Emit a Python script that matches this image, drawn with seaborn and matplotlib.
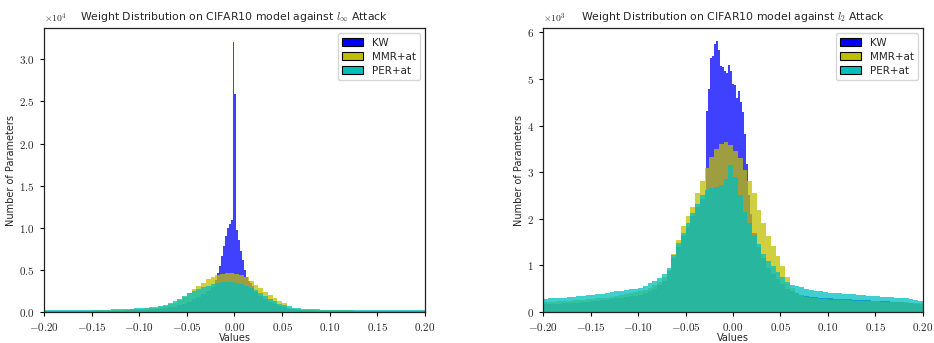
import numpy as np
import pandas as pd
import matplotlib
matplotlib.use("Agg")
import matplotlib.pyplot as plt
import seaborn as sns
from matplotlib.patches import Patch
from matplotlib.ticker import FuncFormatter

# ---- data: bar heights ----
# common grid: 80 bins of width 0.005 over [-0.2, 0.2]
# left panel (l_inf attack), counts in units of 1e4
linf_per = [0.020, 0.020, 0.020, 0.020, 0.021, 0.021, 0.021, 0.022, 0.022, 0.023,
            0.024, 0.025, 0.026, 0.028, 0.030, 0.032, 0.034, 0.037, 0.040, 0.044,
            0.048, 0.053, 0.058, 0.065, 0.075, 0.088, 0.105, 0.125, 0.150, 0.185,
            0.22, 0.25, 0.275, 0.295, 0.31, 0.33, 0.345, 0.355, 0.36, 0.355,
            0.35, 0.335, 0.31, 0.29, 0.26, 0.225, 0.19, 0.155, 0.125, 0.10,
            0.085, 0.068, 0.052, 0.042, 0.037, 0.034, 0.032, 0.030, 0.029, 0.028,
            0.027, 0.026, 0.026, 0.025, 0.025, 0.024, 0.024, 0.023, 0.023, 0.022,
            0.022, 0.021, 0.021, 0.020, 0.020, 0.020, 0.019, 0.019, 0.018, 0.018]
linf_mmr = [0.014, 0.014, 0.014, 0.014, 0.015, 0.015, 0.015, 0.016, 0.016, 0.017,
            0.018, 0.019, 0.020, 0.021, 0.022, 0.024, 0.026, 0.028, 0.031, 0.034,
            0.038, 0.042, 0.047, 0.053, 0.062, 0.074, 0.090, 0.110, 0.140, 0.175,
            0.225, 0.27, 0.31, 0.35, 0.39, 0.42, 0.44, 0.45, 0.46, 0.46,
            0.455, 0.44, 0.41, 0.37, 0.32, 0.28, 0.24, 0.20, 0.165, 0.13,
            0.105, 0.05, 0.035, 0.030, 0.027, 0.025, 0.024, 0.023, 0.022, 0.021,
            0.020, 0.019, 0.019, 0.018, 0.018, 0.017, 0.017, 0.016, 0.016, 0.016,
            0.015, 0.015, 0.015, 0.014, 0.014, 0.014, 0.014, 0.013, 0.013, 0.013]
linf_kw_tail = [0.009, 0.009, 0.009, 0.009, 0.010, 0.010, 0.010, 0.011, 0.011, 0.012,
                0.012, 0.013, 0.013, 0.014, 0.015, 0.016, 0.017, 0.019, 0.021, 0.023,
                0.025, 0.028, 0.031, 0.035, 0.040, 0.047, 0.055, 0.065, 0.080, 0.100,
                0.12, 0.15, 0.18, 0.21, 0.25, 0.30, 0, 0, 0, 0,
                0, 0, 0, 0, 0.24, 0.19, 0.15, 0.12, 0.095, 0.075,
                0.06, 0.04, 0.03, 0.025, 0.022, 0.020, 0.018, 0.017, 0.016, 0.015,
                0.014, 0.014, 0.013, 0.013, 0.012, 0.012, 0.012, 0.011, 0.011, 0.011,
                0.011, 0.010, 0.010, 0.010, 0.010, 0.010, 0.009, 0.009, 0.009, 0.009]
# KW core on narrow bins (20 bins over [-0.02, 0.02])
linf_kw_core = [0.38, 0.46, 0.55, 0.66, 0.78, 0.90, 1.00, 1.05, 1.09, 3.21,
                2.59, 0.97, 0.85, 0.73, 0.62, 0.50, 0.42, 0.37, 0.34, 0.31]
linf_kw_core_range = (-0.02, 0.02)

# right panel (l_2 attack), counts in units of 1e3
l2_per = [0.28, 0.29, 0.30, 0.31, 0.31, 0.32, 0.33, 0.34, 0.35, 0.36,
          0.37, 0.38, 0.39, 0.40, 0.42, 0.44, 0.46, 0.47, 0.49, 0.50,
          0.52, 0.56, 0.62, 0.67, 0.73, 0.82, 0.95, 1.22, 1.48, 1.70,
          1.90, 2.12, 2.32, 2.50, 2.62, 2.66, 2.68, 2.72, 2.85, 3.15,
          2.90, 2.50, 2.15, 1.90, 1.65, 1.45, 1.25, 1.10, 0.98, 0.86,
          0.74, 0.64, 0.57, 0.55, 0.53, 0.50, 0.48, 0.46, 0.44, 0.42,
          0.41, 0.40, 0.40, 0.39, 0.38, 0.38, 0.37, 0.36, 0.35, 0.35,
          0.34, 0.33, 0.32, 0.32, 0.31, 0.30, 0.29, 0.28, 0.26, 0.24]
l2_mmr = [0.21, 0.22, 0.22, 0.23, 0.23, 0.24, 0.25, 0.25, 0.26, 0.27,
          0.28, 0.29, 0.30, 0.31, 0.33, 0.35, 0.37, 0.39, 0.41, 0.43,
          0.45, 0.48, 0.52, 0.57, 0.64, 0.74, 0.90, 1.25, 1.55, 1.85,
          2.05, 2.26, 2.55, 2.80, 3.08, 3.33, 3.50, 3.60, 3.65, 3.58,
          3.45, 3.30, 3.05, 2.80, 2.55, 2.18, 1.90, 1.62, 1.42, 1.20,
          0.98, 0.75, 0.52, 0.40, 0.36, 0.33, 0.31, 0.29, 0.28, 0.27,
          0.26, 0.26, 0.25, 0.25, 0.25, 0.24, 0.24, 0.24, 0.23, 0.23,
          0.23, 0.22, 0.22, 0.22, 0.21, 0.21, 0.21, 0.20, 0.20, 0.19]
l2_kw_tail = [0.17, 0.17, 0.18, 0.18, 0.19, 0.19, 0.20, 0.20, 0.21, 0.22,
              0.23, 0.24, 0.25, 0.26, 0.27, 0.29, 0.30, 0.32, 0.34, 0.35,
              0.37, 0.40, 0.44, 0.50, 0.57, 0.66, 0.88, 1.15, 1.40, 1.62,
              1.82, 2.05, 2.25, 2.42, 0, 0, 0, 0, 0, 0,
              0, 0, 0, 0, 1.70, 1.40, 1.15, 0.95, 0.82, 0.70,
              0.60, 0.50, 0.44, 0.40, 0.37, 0.35, 0.33, 0.32, 0.31, 0.30,
              0.29, 0.28, 0.28, 0.27, 0.27, 0.26, 0.26, 0.25, 0.25, 0.24,
              0.24, 0.23, 0.23, 0.22, 0.21, 0.21, 0.20, 0.19, 0.18, 0.17]
# KW core on narrow bins (24 bins over [-0.03, 0.02])
l2_kw_core = [2.55, 4.31, 4.78, 5.45, 5.49, 5.75, 5.82, 5.61, 5.28, 5.25,
              5.16, 5.12, 5.30, 5.16, 4.89, 4.87, 4.59, 4.74, 4.51, 4.30,
              3.82, 3.18, 2.50, 2.10]
l2_kw_core_range = (-0.03, 0.02)

labels = ["KW", "MMR+at", "PER+at"]
colors = ["b", "y", "c"]

edges = list(np.linspace(-0.2, 0.2, 81))
centers = [(a + b) / 2 for a, b in zip(edges[:-1], edges[1:])]

sns.set_style("ticks")
plt.rcParams["font.family"] = ["DejaVu Sans"]
plt.rcParams["mathtext.fontset"] = "cm"

fig = plt.figure(figsize=(9.34, 3.43), dpi=100)
ax1 = fig.add_axes([0.0471, 0.0904, 0.4079, 0.8276])
ax2 = fig.add_axes([0.5814, 0.0904, 0.4068, 0.8276])


def hist(ax, x, counts, bins, scale, color):
    df = pd.DataFrame({"x": x, "w": np.asarray(counts, dtype=float) * scale})
    sns.histplot(data=df, x="x", weights="w", bins=bins,
                 color=color, alpha=0.75, linewidth=0, ax=ax)


def draw(ax, kw_core, kw_range, kw_tail, mmr, per, scale, exp, ymax, yticks, fmt, title):
    core_edges = list(np.linspace(kw_range[0], kw_range[1], len(kw_core) + 1))
    core_centers = [(a + b) / 2 for a, b in zip(core_edges[:-1], core_edges[1:])]
    # KW: tails on the common grid, core on narrow bins
    hist(ax, centers, kw_tail, edges, scale, "b")
    hist(ax, core_centers, kw_core, core_edges, scale, "b")
    hist(ax, centers, mmr, edges, scale, "y")
    hist(ax, centers, per, edges, scale, "c")

    ax.set_xlim(-0.2, 0.2)
    ax.set_ylim(0, ymax * scale)
    ax.set_xticks(np.linspace(-0.2, 0.2, 9))
    ax.set_yticks(np.array(yticks) * scale)
    ax.xaxis.set_major_formatter(FuncFormatter(lambda v, p: f"${v:.2f}$"))
    ax.yaxis.set_major_formatter(FuncFormatter(lambda v, p: "$" + format(v / scale, fmt) + "$"))
    ax.tick_params(labelsize=8, length=3, width=0.8, color="k")
    ax.set_xlabel("Values", fontsize=7, labelpad=0)
    ax.set_ylabel("Number of Parameters", fontsize=7, labelpad=2)
    ax.set_title(title, fontsize=7.8, pad=6)
    ax.text(0.0, 1.012, r"$\times10^{%d}$" % exp, transform=ax.transAxes,
            fontsize=7, ha="left", va="bottom")
    for s in ax.spines.values():
        s.set_linewidth(0.9)
        s.set_color("#222222")
    handles = [Patch(facecolor=c, edgecolor="k", linewidth=0.8) for c in colors]
    ax.legend(handles, labels, loc="upper right", fontsize=7.5, frameon=True,
              handlelength=2.0, handleheight=0.8, borderpad=0.4, labelspacing=0.4,
              fancybox=True, framealpha=0.8)


draw(ax1, linf_kw_core, linf_kw_core_range, linf_kw_tail, linf_mmr, linf_per,
     1e4, 4, 3.37, [0, 0.5, 1.0, 1.5, 2.0, 2.5, 3.0], ".1f",
     r"Weight Distribution on CIFAR10 model against $l_\infty$ Attack")
draw(ax2, l2_kw_core, l2_kw_core_range, l2_kw_tail, l2_mmr, l2_per,
     1e3, 3, 6.09, [0, 1, 2, 3, 4, 5, 6], ".0f",
     r"Weight Distribution on CIFAR10 model against $l_2$ Attack")

fig.savefig("out.png", dpi=100)
